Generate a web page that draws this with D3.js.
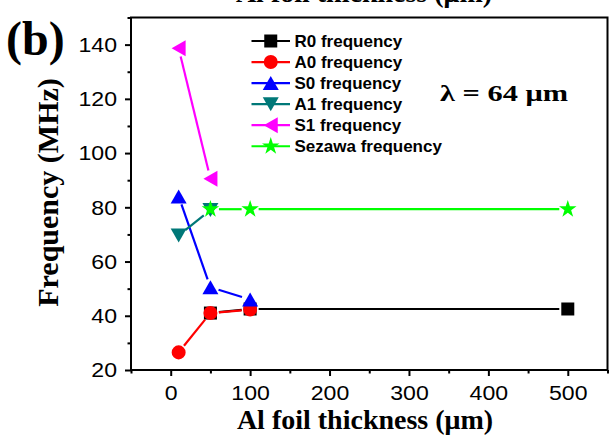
<!DOCTYPE html>
<html>
<head>
<meta charset="utf-8">
<script src="https://cdn.jsdelivr.net/npm/d3@7"></script>
<style>
body { margin: 0; background: #fff; }
</style>
</head>
<body>
<div id="chart-area"></div>
<script>
/*
*    frequency vs Al foil thickness, lambda = 64 um
*/
var width = 610;
var height = 439;
var margin = {top: 17.5, right: 2.5, bottom: 69, left: 131};

// data
var seriesNames = ["R0 frequency", "A0 frequency", "S0 frequency", "A1 frequency", "S1 frequency", "Sezawa frequency"];
var r0Thickness = [50, 100, 500];
var r0Freq = [41, 42.5, 42.5];
var a0Thickness = [10, 50, 100];
var a0Freq = [26.5, 41, 42.3];
var s0Thickness = [10, 50, 100];
var s0Freq = [84, 50.5, 46];
var a1Thickness = [10, 50];
var a1Freq = [69.6, 79];
var s1Thickness = [10, 50];
var s1Freq = [138.7, 90.5];
var sezawaThickness = [50, 100, 500];
var sezawaFreq = [79.3, 79.3, 79.3];

var xTicks = [0, 100, 200, 300, 400, 500];
var yTicks = [20, 40, 60, 80, 100, 120, 140];
var xMinor = [-50, 50, 150, 250, 350, 450, 550];
var yMinor = [30, 50, 70, 90, 110, 130, 150];

// origin style triangles, centred on their box
var triW = 16, triH = 14;
var triUp = {draw: function(c) { c.moveTo(0, -triH / 2); c.lineTo(triW / 2, triH / 2); c.lineTo(-triW / 2, triH / 2); c.closePath(); }};
var triDown = {draw: function(c) { c.moveTo(0, triH / 2); c.lineTo(triW / 2, -triH / 2); c.lineTo(-triW / 2, -triH / 2); c.closePath(); }};
var triLeft = {draw: function(c) { c.moveTo(-triH / 2, 0); c.lineTo(triH / 2, -triW / 2); c.lineTo(triH / 2, triW / 2); c.closePath(); }};

var series = [
    {name: seriesNames[0], xs: r0Thickness, ys: r0Freq, color: "#000000", symbol: d3.symbolSquare, size: 169},
    {name: seriesNames[1], xs: a0Thickness, ys: a0Freq, color: "#ff0000", symbol: d3.symbolCircle, size: 154},
    {name: seriesNames[2], xs: s0Thickness, ys: s0Freq, color: "#0000ff", symbol: triUp, size: 1},
    {name: seriesNames[3], xs: a1Thickness, ys: a1Freq, color: "#007878", symbol: triDown, size: 1},
    {name: seriesNames[4], xs: s1Thickness, ys: s1Freq, color: "#ff00ff", symbol: triLeft, size: 1},
    {name: seriesNames[5], xs: sezawaThickness, ys: sezawaFreq, color: "#00ff00", symbol: d3.symbolStar, size: 95}
];

var w = width - margin.left - margin.right;
var h = height - margin.top - margin.bottom;

var svg = d3.select("#chart-area")
    .append("svg")
        .attr("width", width)
        .attr("height", height);

var g = svg.append("g")
    .attr("transform", "translate(" + margin.left + ", " + margin.top + ")");

var x = d3.scaleLinear().domain([-50, 550]).range([0, w]);
var y = d3.scaleLinear().domain([20, 150]).range([h, 0]);

var tickFont = "'Liberation Sans', Arial, sans-serif";
var serif = "'Liberation Serif', 'Times New Roman', serif";

// minor ticks
g.append("g")
    .attr("transform", "translate(0, " + h + ")")
    .call(d3.axisBottom(x).tickValues(xMinor).tickSize(3.5).tickFormat(""))
    .call(a => a.select(".domain").remove());
g.append("g")
    .call(d3.axisLeft(y).tickValues(yMinor).tickSize(3.5).tickFormat(""))
    .call(a => a.select(".domain").remove());

// major ticks
var bottomAxis = d3.axisBottom(x).tickValues(xTicks).tickSize(6).tickPadding(0);
g.append("g")
    .attr("class", "x axis")
    .attr("transform", "translate(0, " + h + ")")
    .call(bottomAxis)
    .call(a => a.select(".domain").remove())
    .selectAll("text")
        .attr("y", 0)
        .attr("dy", 0)
        .attr("transform", "translate(0, 29.5) scale(1.1, 1)")
        .attr("font-size", "21px");

var leftAxis = d3.axisLeft(y).tickValues(yTicks).tickSize(6);
g.append("g")
    .attr("class", "y axis")
    .call(leftAxis)
    .call(a => a.select(".domain").remove())
    .selectAll("text")
        .attr("x", 0)
        .attr("dy", "0.35em")
        .attr("transform", "translate(-14, -0.5) scale(1.1, 1)")
        .attr("font-size", "21px");

g.selectAll(".tick line").attr("stroke", "#000").attr("stroke-width", 2);
g.selectAll(".tick text").attr("font-family", tickFont).attr("fill", "#000");

// frame
g.append("rect")
    .attr("width", w)
    .attr("height", h)
    .attr("fill", "none")
    .attr("stroke", "#000")
    .attr("stroke-width", 2);

// lines with a small gap to each symbol
var gap = 8.5;
series.forEach((s) => {
    var pts = s.xs.map((d, i) => [x(d), y(s.ys[i])]);
    for (var i = 0; i < pts.length - 1; i++) {
        var p = pts[i], q = pts[i + 1];
        var dx = q[0] - p[0], dy = q[1] - p[1];
        var len = Math.sqrt(dx * dx + dy * dy);
        if (len <= 2 * gap) continue;
        var ux = dx / len, uy = dy / len;
        g.append("line")
            .attr("x1", p[0] + ux * gap)
            .attr("y1", p[1] + uy * gap)
            .attr("x2", q[0] - ux * gap)
            .attr("y2", q[1] - uy * gap)
            .attr("stroke", s.color)
            .attr("stroke-width", 2.2);
    }
    g.selectAll(null)
        .data(s.xs)
        .enter()
        .append("path")
            .attr("d", d3.symbol().type(s.symbol).size(s.size))
            .attr("transform", (d, i) => "translate(" + x(d) + ", " + y(s.ys[i]) + ")")
            .attr("fill", s.color);
});

// legend
var legend = svg.append("g").attr("transform", "translate(251.5, 41)");
series.forEach((s, i) => {
    var row = legend.append("g").attr("transform", "translate(0, " + (i * 21.05) + ")");
    row.append("line")
        .attr("x1", 0).attr("x2", 38.5)
        .attr("stroke", s.color)
        .attr("stroke-width", 2.2);
    row.append("path")
        .attr("d", d3.symbol().type(s.symbol).size(s.size))
        .attr("transform", "translate(19.25, 0)")
        .attr("fill", s.color);
    row.append("text")
        .attr("x", 43)
        .attr("y", 6)
        .attr("font-family", tickFont)
        .attr("font-weight", "bold")
        .attr("font-size", "17px")
        .text(s.name);
});

// labels
svg.append("text")
    .attr("x", 365)
    .attr("y", 429)
    .attr("text-anchor", "middle")
    .attr("font-family", serif)
    .attr("font-weight", "bold")
    .attr("font-size", "28px")
    .text("Al foil thickness (\u03bcm)");

// title of the panel above, cut off at the top edge
svg.append("text")
    .attr("x", 364)
    .attr("y", 1.5)
    .attr("text-anchor", "middle")
    .attr("font-family", serif)
    .attr("font-weight", "bold")
    .attr("font-size", "28px")
    .text("Al foil thickness (\u03bcm)");

svg.append("text")
    .attr("transform", "translate(58, 192.5) rotate(-90)")
    .attr("text-anchor", "middle")
    .attr("font-family", serif)
    .attr("font-weight", "bold")
    .attr("font-size", "30px")
    .text("Frequency (MHz)");

svg.append("text")
    .attr("x", 6)
    .attr("y", 55)
    .attr("font-family", serif)
    .attr("font-weight", "bold")
    .attr("font-size", "48px")
    .text("(b)");

svg.append("text")
    .attr("x", 440)
    .attr("y", 100.5)
    .attr("font-family", serif)
    .attr("font-weight", "bold")
    .attr("font-size", "23px")
    .attr("textLength", 128)
    .attr("lengthAdjust", "spacingAndGlyphs")
    .text("\u03bb = 64 \u03bcm");
</script>
</body>
</html>
